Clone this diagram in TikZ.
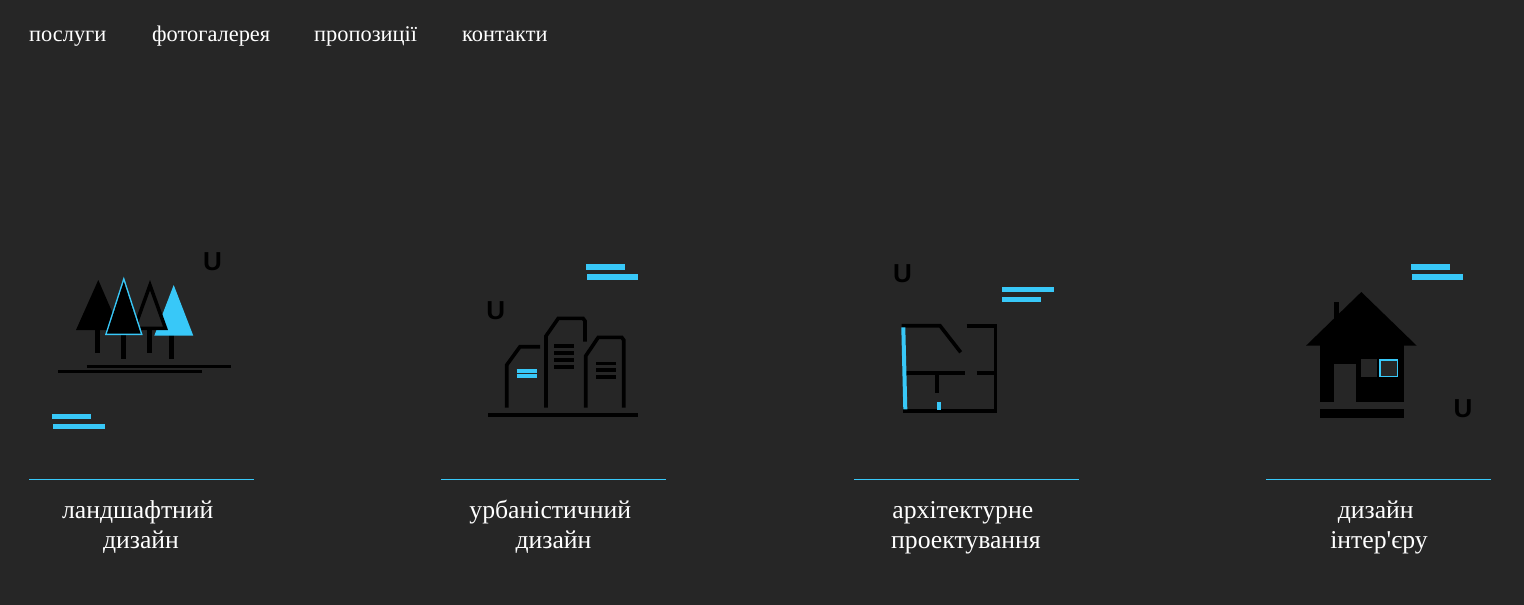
\documentclass[tikz,border=0pt]{standalone}
\usepackage{fontspec}
\setmainfont{Liberation Serif}
\newfontfamily\letterfont{Liberation Sans}
\newfontfamily\captionfont{Liberation Serif}
\definecolor{pagebg}{HTML}{262626}
\definecolor{skyblue}{HTML}{38C8F8}
\newcommand{\trailgap}{\hbox{\ }}
\tikzset{
  menuitem/.style={anchor=base west,inner sep=0pt,text=white,font=\fontsize{22.4}{22}\selectfont},
  caption/.style={anchor=base,inner sep=0pt,align=center,text=white,font=\fontsize{25.7}{30}\selectfont\captionfont},
  letter/.style={anchor=base,inner sep=0pt,text=black,font=\fontsize{26}{26}\selectfont\letterfont\bfseries},
  bluebar/.style={draw=skyblue,line width=5.3pt},
  wall/.style={draw=black,line width=3.6pt},
  thinwall/.style={draw=black,line width=2.7pt},
}
\begin{document}
\begin{tikzpicture}[x=1pt,y=-1pt]
  \useasboundingbox (0,0) rectangle (1524,605);
  \fill[pagebg] (0,0) rectangle (1524,605);
  % menu
  \node[menuitem] (services) at (29,41.5) {послуги};
  \node[menuitem] (gallery) at (152,41.5) {фотогалерея};
  \node[menuitem] (offers) at (314,41.5) {пропозиції};
  \node[menuitem] (contacts) at (462,41.5) {контакти};
  % landscape
  \begin{scope}
    \fill[black] (95.3,330) rectangle (100.3,353);
    \fill[black] (121,334) rectangle (126,359);
    \fill[black] (147,330) rectangle (152,353);
    \fill[black] (168.7,335) rectangle (174,359);
    \fill[skyblue] (173.7,285) -- (193.3,335.7) -- (154.3,335.7) -- cycle;
    \draw[draw=black,line width=3.5pt,fill=pagebg,miter limit=10] (150,285.2) -- (165.5,328.25) -- (134.5,328.25) -- cycle;
    \fill[black] (98.3,280) -- (120,330) -- (76,330) -- cycle;
    \fill[skyblue] (123.8,276.7) -- (142.7,335) -- (105,335) -- cycle;
    \fill[black] (123.8,281.5) -- (140.6,333.5) -- (107,333.5) -- cycle;
    \draw[thinwall] (86.7,366.3) -- (230.7,366.3);
    \draw[thinwall] (58,371.7) -- (202,371.7);
    \draw[bluebar] (52,416.3) -- (91,416.3);
    \draw[bluebar] (53,426.3) -- (105,426.3);
    \node[letter] (landletter) at (212.5,270) {U};
  \end{scope}
  % urban
  \begin{scope}
    \draw[bluebar] (586,267) -- (624.7,267);
    \draw[bluebar] (587,277) -- (638.3,277);
    \node[letter] (urbanletter) at (495.8,319.3) {U};
    \draw[wall] (506.7,407.7) -- (506.7,365) -- (520,346.7) -- (540,346.7);
    \draw[wall] (546,407.7) -- (546,336) -- (558.3,318.3) -- (583,318.3) -- (585,321) -- (585,341.7);
    \draw[wall] (585.7,407.7) -- (585.7,356) -- (598.3,337.3) -- (621.7,337.3) -- (623.7,340) -- (623.7,407.7);
    \draw[wall] (554.3,346) -- (574.3,346);
    \draw[wall] (554.3,353) -- (574.3,353);
    \draw[wall] (554.3,360) -- (574.3,360);
    \draw[wall] (554.3,367) -- (574.3,367);
    \draw[wall] (596,363.3) -- (616,363.3);
    \draw[wall] (596,370) -- (616,370);
    \draw[wall] (596,376.7) -- (616,376.7);
    \draw[skyblue,line width=4pt] (516.7,370.7) -- (536.7,370.7);
    \draw[skyblue,line width=4pt] (516.7,376) -- (536.7,376);
    \draw[wall] (488,414.7) -- (638.3,414.7);
  \end{scope}
  % plan
  \begin{scope}
    \node[letter] (planletter) at (902.5,282) {U};
    \draw[bluebar] (1002.3,289.7) -- (1054,289.7);
    \draw[bluebar] (1002.3,299.3) -- (1041,299.3);
    \draw[wall] (901.7,325.7) -- (940,325.7) -- (960.7,352.3);
    \draw[wall] (966.7,325.7) -- (995.3,325.7) -- (995.3,411) -- (903.3,411);
    \draw[wall] (906,372.7) -- (964.7,372.7);
    \draw[wall] (976.7,372.7) -- (995.3,372.7);
    \draw[wall] (937,372.7) -- (937,392.7);
    \draw[skyblue,line width=4pt] (903.3,327.3) -- (905.3,409.3);
    \draw[skyblue,line width=4pt] (938.7,402) -- (938.7,410);
  \end{scope}
  % house
  \begin{scope}
    \draw[bluebar] (1411,267) -- (1449.7,267);
    \draw[bluebar] (1412,277) -- (1463,277);
    \fill[black] (1333.7,302) rectangle (1339.3,322);
    \fill[black] (1361.3,292) -- (1416.7,345.7) -- (1306,345.7) -- cycle;
    \fill[black] (1320,345) rectangle (1404,402);
    \fill[pagebg] (1333.7,364.3) rectangle (1356,402);
    \fill[pagebg] (1361.3,359) rectangle (1377.3,377.3);
    \fill[skyblue] (1379.3,359) rectangle (1398.3,377.3);
    \fill[pagebg] (1380.8,360.5) rectangle (1396.8,375.8);
    \fill[black] (1320,409) rectangle (1404,418.3);
    \node[letter] (houseletter) at (1463,417.7) {U};
  \end{scope}
  % captions
  \fill[skyblue] (29,479) rectangle (254,480);
  \fill[skyblue] (441,479) rectangle (666,480);
  \fill[skyblue] (854,479) rectangle (1079,480);
  \fill[skyblue] (1266,479) rectangle (1491,480);
  \node[caption] (landcaption) at (141,548) {ландшафтний\trailgap\\дизайн};
  \node[caption] (urbancaption) at (553.5,548) {урбаністичний\trailgap\\дизайн};
  \node[caption] (plancaption) at (966,548) {архітектурне\trailgap\\проектування};
  \node[caption] (housecaption) at (1379,548) {дизайн\trailgap\\інтер'єру};
\end{tikzpicture}
\end{document}
